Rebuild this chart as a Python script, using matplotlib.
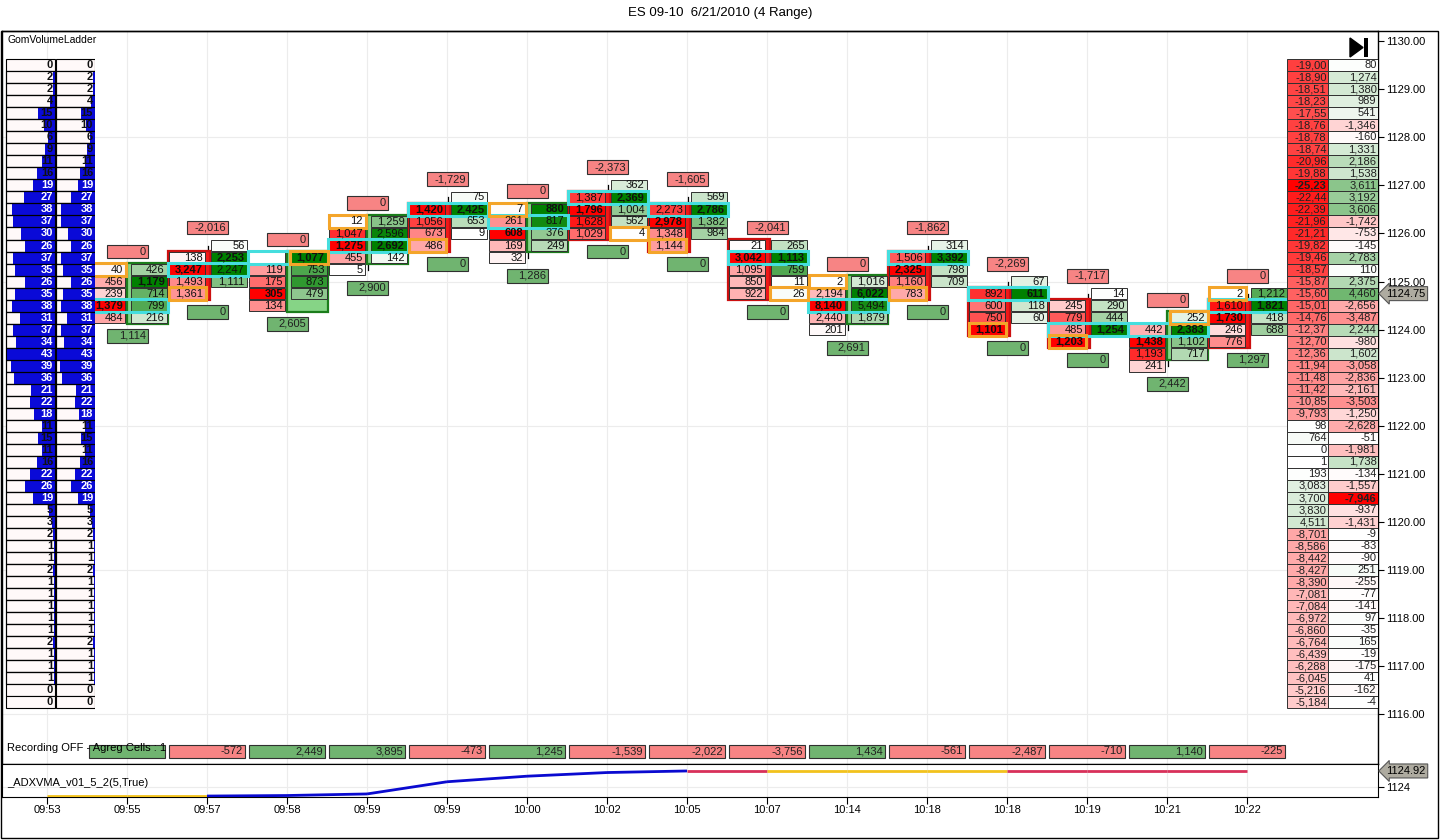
import matplotlib
matplotlib.use('Agg')
import matplotlib.pyplot as plt
from matplotlib.patches import Rectangle, Polygon
from matplotlib.collections import LineCollection
from matplotlib.transforms import blended_transform_factory
import numpy as np

plt.rcParams['font.family'] = ['Liberation Sans', 'DejaVu Sans']
plt.rcParams['font.size'] = 8

# ---------------- data ----------------
title = 'ES 09-10  6/21/2010 (4 Range)'
bar_times = ['09:53', '09:55', '09:57', '09:58', '09:59', '09:59', '10:00', '10:02',
             '10:05', '10:07', '10:14', '10:18', '10:18', '10:19', '10:21', '10:22']

TICK = 0.25
ladder_top = 1129.50
# GomVolumeLadder (left), same figures in both columns
ladder_vol = [0, 2, 2, 4, 15, 10, 6, 9, 11, 16, 19, 27, 38, 37, 30, 26, 37, 35, 26, 35,
              38, 31, 37, 34, 43, 39, 36, 21, 22, 18, 11, 15, 11, 16, 22, 26, 19, 5, 3, 2,
              1, 1, 2, 1, 1, 1, 1, 1, 2, 1, 1, 1, 0, 0]
# right ladder, two columns of cumulated delta
ladder_delta_a = [-19000, -18900, -18510, -18230, -17550, -18760, -18780, -18740, -20960, -19880,
                  -25230, -22440, -22390, -21960, -21210, -19820, -19460, -18570, -15870, -15600,
                  -15010, -14760, -12370, -12700, -12360, -11940, -11480, -11420, -10850, -9793,
                  98, 764, 0, 1, 193, 3083, 3700, 3830, 4511, -8701,
                  -8586, -8442, -8427, -8390, -7081, -7084, -6972, -6860, -6764, -6439,
                  -6288, -6045, -5216, -5184]
ladder_delta_b = [80, 1274, 1380, 989, 541, -1346, -160, 1331, 2186, 1538,
                  3611, 3192, 3606, -1742, -753, -145, 2783, 110, 2375, 4460,
                  -2656, -3487, 2244, -980, 1602, -3058, -2836, -2161, -3503, -1250,
                  -2628, -51, -1981, 1738, -134, -1557, -7946, -937, -1431, -9,
                  -83, -90, 251, -255, -77, -141, 97, -35, 165, -19,
                  -175, 41, -162, -4]

# footprint bars 1..15 (bar 0 hidden behind the ladder)
bid_tops = [1125.25, 1125.50, 1125.50, 1126.25, 1126.50, 1126.50, 1126.75, 1126.50,
            1125.75, 1125.00, 1125.50, 1124.75, 1124.50, 1124.00, 1124.75]
bid_vols = [[40, 456, 239, 1379, 484], [138, 3247, 1493, 1361], [None, 119, 175, 305, 134],
            [12, 1047, 1275, 455, 5], [1420, 1056, 673, 486], [7, 261, 608, 169, 32],
            [1387, 1796, 1628, 1029], [2273, 2978, 1348, 1144], [21, 3042, 1095, 850, 922],
            [2, 2194, 8140, 2440, 201], [1506, 2325, 1160, 783], [892, 600, 750, 1101],
            [245, 779, 485, 1203], [442, 1438, 1193, 241], [2, 1610, 1730, 246, 776]]
ask_tops = [1125.25, 1125.75, 1125.50, 1126.25, 1126.75, 1126.50, 1127.00, 1126.75,
            1125.75, 1125.00, 1125.75, 1125.00, 1124.75, 1124.25, 1124.75]
ask_vols = [[426, 1179, 714, 799, 216], [56, 2253, 2247, 1111], [1077, 753, 873, 479],
            [1259, 2596, 2692, 142], [75, 2425, 653, 9], [880, 817, 376, 249],
            [362, 2369, 1004, 562, 4], [569, 2786, 1382, 984], [265, 1113, 759, 11, 26],
            [1016, 6022, 5494, 1879], [314, 3392, 798, 709], [67, 611, 118, 60],
            [14, 290, 444, 1254], [252, 2383, 1102, 717], [1212, 1821, 418, 688]]
poc_prices = [1124.50, 1125.25, 1125.50, 1125.75, 1126.50, 1126.25, 1126.75, 1126.50,
              1125.50, 1124.50, 1125.50, 1124.75, 1124.00, 1124.00, 1124.50]
close_side = ['bid', 'bid', 'ask', 'bid', 'bid', 'bid', 'ask', 'bid',
              'ask', 'bid', 'bid', 'bid', 'bid', 'ask', 'bid']
close_price = [1125.25, 1124.75, 1125.50, 1126.25, 1125.75, 1126.50, 1126.00, 1125.75,
               1124.75, 1125.00, 1124.75, 1124.00, 1123.75, 1124.25, 1124.75]
body_top = [1125.25, 1125.50, 1125.50, 1126.25, 1126.50, 1126.50, 1126.75, 1126.50,
            1125.75, 1125.00, 1125.50, 1124.75, 1124.50, 1124.25, 1124.50]
body_bot = [1124.25, 1124.75, 1124.50, 1125.50, 1125.75, 1125.75, 1126.00, 1125.75,
            1124.75, 1124.25, 1124.75, 1124.00, 1123.75, 1123.50, 1123.75]
body_bull = [True, False, True, True, False, True, False, False,
             False, True, False, False, False, True, False]
top_deltas = [0, -2016, 0, 0, -1729, 0, -2373, -1605, -2041, 0, -1862, -2269, -1717, 0, 0]
bottom_vals = [1114, 0, 2605, 2900, 0, 1286, 0, 0, 0, 2691, 0, 0, 0, 2442, 1297]
# bottom strip, bar 1 figure hidden under the status text
strip_vals = [None, -572, 2449, 3895, -473, 1245, -1539, -2022, -3756, 1434,
              -561, -2487, -710, 1140, -225]
strip_bull = [True] + [v > 0 for v in strip_vals[1:]]

last_price = 1124.75
adx_vals = [1123.48, 1123.48, 1123.48, 1123.51, 1123.60, 1124.30, 1124.62, 1124.83,
            1124.92, 1124.92, 1124.92, 1124.92, 1124.92, 1124.92, 1124.92, 1124.92]
adx_colors = ['#f2c21c', '#f2c21c', '#0a0ad0', '#0a0ad0', '#0a0ad0', '#0a0ad0', '#0a0ad0',
              '#0a0ad0', '#d8305a', '#f2c21c', '#f2c21c', '#f2c21c', '#d8305a', '#d8305a',
              '#d8305a']

RED = (1.0, 0.0, 0.0)
GREEN = (0.0, 0.5, 0.0)


def shade(v, vmax, pos=GREEN, neg=RED):
    t = min(abs(v) / vmax, 1.0) if vmax else 0.0
    base = pos if v >= 0 else neg
    return tuple(1 - t * (1 - ch) for ch in base)


def fmt(v):
    return f'{v:,}'


# ---------------- layout ----------------
W, H = 1440, 840
fig = plt.figure(figsize=(14.4, 8.4), dpi=100)
fig.text(0.5, 1 - 13 / H, title, ha='center', va='center', fontsize=9.5)

AX_L, AX_R, AX_T, AX_B, ADX_B = 2, 1378, 31, 764, 797
ax = fig.add_axes([AX_L / W, 1 - AX_B / H, (AX_R - AX_L) / W, (AX_B - AX_T) / H])
adx = fig.add_axes([AX_L / W, 1 - ADX_B / H, (AX_R - AX_L) / W, (ADX_B - AX_B) / H], sharex=ax)

ax.set_xlim(-0.5625, 16.6375)
ax.set_ylim(1114.97, 1130.21)

# grid
for s in ax.spines.values():
    s.set_linewidth(1.0)
ax.vlines(range(len(bar_times)), 1114.97, 1130.21, color='#ececec', lw=0.8, zorder=0)
ax.hlines([1116, 1119, 1122, 1125, 1128], -0.6, 16.7, color='#ececec', lw=0.8, zorder=0)

ax.yaxis.tick_right()
ax.set_yticks(np.arange(1116, 1131))
ax.set_yticklabels([f'{p:.2f}' for p in np.arange(1116, 1131)])
ax.tick_params(axis='y', direction='out', length=4, labelsize=8, pad=2)
ax.tick_params(axis='x', bottom=False, labelbottom=False)

# footprint bars
BID_X = (-0.47, -0.02)
ASK_X = (0.05, 0.50)
for k in range(len(bid_vols)):
    c = k + 1
    bids, asks = bid_vols[k], ask_vols[k]
    bid_p = [bid_tops[k] - TICK * j for j in range(len(bids))]
    ask_p = [ask_tops[k] - TICK * j for j in range(len(asks))]
    hi = max(bid_p[0], ask_p[0])
    lo = min(bid_p[-1], ask_p[-1])
    ax.plot([c + 0.015, c + 0.015], [lo, hi], color='black', lw=0.9, zorder=2)

    h = body_top[k] - body_bot[k] + 0.28
    if body_bull[k]:
        ax.add_patch(Rectangle((c - 0.005, body_bot[k] - 0.14), 0.52, h,
                               fc='#86d486', ec='#1b7d1b', lw=1.6, zorder=3))
    else:
        ax.add_patch(Rectangle((c - 0.49, body_bot[k] - 0.14), 0.53, h,
                               fc='#f01818', ec='#cc1010', lw=1.6, zorder=3))

    bmax = max(v for v in bids if v is not None)
    amax = max(asks)
    for p, v in zip(bid_p, bids):
        fc = 'white' if v is None else shade(-v, bmax)
        ax.add_patch(Rectangle((c + BID_X[0], p - 0.12), BID_X[1] - BID_X[0], 0.24,
                               fc=fc, ec='#303030', lw=0.7, zorder=4))
        if v is not None:
            ax.text(c + BID_X[1] - 0.03, p, fmt(v), ha='right', va='center', fontsize=8,
                    fontweight='bold' if v == bmax else 'normal', color='#101010', zorder=8)
    for p, v in zip(ask_p, asks):
        ax.add_patch(Rectangle((c + ASK_X[0], p - 0.12), ASK_X[1] - ASK_X[0], 0.24,
                               fc=shade(v, amax), ec='#303030', lw=0.7, zorder=4))
        ax.text(c + ASK_X[1] - 0.03, p, fmt(v), ha='right', va='center', fontsize=8,
                fontweight='bold' if v == amax else 'normal', color='#101010', zorder=8)

    # POC row and close cell
    ax.add_patch(Rectangle((c - 0.485, poc_prices[k] - 0.135), 1.0, 0.27, fill=False,
                           ec='#45dede', lw=2.2, zorder=6))
    cx = BID_X if close_side[k] == 'bid' else ASK_X
    ax.add_patch(Rectangle((c + cx[0] - 0.01, close_price[k] - 0.135), cx[1] - cx[0] + 0.02, 0.27,
                           fill=False, ec='#f4a52a', lw=2.2, zorder=7))

    # delta above, volume below
    ytop = hi + 0.375
    ax.add_patch(Rectangle((c - 0.25, ytop - 0.145), 0.515, 0.29, fc='#f78484',
                           ec='#303030', lw=0.8, zorder=5))
    ax.text(c + 0.235, ytop, fmt(top_deltas[k]), ha='right', va='center', fontsize=8,
            color='#202020', zorder=8)
    ybot = lo - 0.375
    ax.add_patch(Rectangle((c - 0.25, ybot - 0.145), 0.515, 0.29, fc='#70b470',
                           ec='#303030', lw=0.8, zorder=5))
    ax.text(c + 0.235, ybot, fmt(bottom_vals[k]), ha='right', va='center', fontsize=8,
            color='#202020', zorder=8)

# bottom strip
strip_tr = blended_transform_factory(ax.transData, ax.transAxes)
for k, v in enumerate(strip_vals):
    c = k + 1
    ax.add_patch(Rectangle((c - 0.475, 0.0086), 0.95, 0.0174, transform=strip_tr,
                           fc='#70b470' if strip_bull[k] else '#f78484', ec='#303030',
                           lw=0.8, zorder=5))
    if v is not None:
        ax.text(c + 0.45, 0.0173, fmt(v), transform=strip_tr, ha='right', va='center',
                fontsize=8, color='#202020', zorder=8)


def axfrac(px, py):
    return (px - AX_L) / (AX_R - AX_L), (AX_B - py) / (AX_B - AX_T)


ax.text(*axfrac(7, 748), 'Recording OFF - Agreg Cells : 1', transform=ax.transAxes,
        ha='left', va='center', fontsize=8, zorder=9)
ax.text(*axfrac(7, 40), 'GomVolumeLadder', transform=ax.transAxes,
        ha='left', va='center', fontsize=7.5, zorder=9)

# go-to-end icon
ax.add_patch(Polygon([axfrac(1350, 38), axfrac(1350, 57), axfrac(1363, 47.5)],
                     closed=True, transform=ax.transAxes, fc='black', ec='black', zorder=9))
x0, y0 = axfrac(1364, 57)
x1, y1 = axfrac(1368, 38)
ax.add_patch(Rectangle((x0, y0), x1 - x0, y1 - y0, transform=ax.transAxes,
                       fc='black', ec='none', zorder=9))

# last price marker
ax.annotate(f'{last_price:.2f}', xy=(1.0, last_price), xycoords=('axes fraction', 'data'),
            xytext=(6, 0), textcoords='offset points', ha='left', va='center', fontsize=8,
            bbox=dict(boxstyle='larrow,pad=0.18', fc='#aeaba0', ec='#555555', lw=0.8),
            annotation_clip=False)

# ---------------- left ladder ----------------
ladder_prices = [ladder_top - TICK * j for j in range(len(ladder_vol))]
lad = fig.add_axes([5 / W, 1 - AX_B / H, 90 / W, (AX_B - AX_T) / H], sharey=ax)
lad.set_xlim(0, 90)
lad.axis('off')
vmax = max(ladder_vol)
for x0, x1 in [(1, 50), (51, 90)]:
    for p, v in zip(ladder_prices, ladder_vol):
        lad.add_patch(Rectangle((x0, p - 0.125), x1 - x0, 0.25, fc='#fff9f9',
                                ec='black', lw=0.8, zorder=2))
        bw = (x1 - x0) * v / vmax
        if bw > 0:
            lad.add_patch(Rectangle((x1 - bw, p - 0.125), bw, 0.25, fc='#0a0ad8',
                                    ec='none', zorder=3))
            lad.add_patch(Rectangle((x0, p - 0.125), x1 - x0, 0.25, fill=False,
                                    ec='black', lw=0.8, zorder=4))
        lad.text(x1 - 2, p, str(v), ha='right', va='center', fontsize=8, fontweight='bold',
                 color='white' if v >= 18 else '#101010', zorder=5)

# ---------------- right ladder ----------------
rl = fig.add_axes([1287 / W, 1 - AX_B / H, 91 / W, (AX_B - AX_T) / H], sharey=ax)
rl.set_xlim(0, 91)
rl.axis('off')
for (x0, x1), vals in [((0, 41), ladder_delta_a), ((41, 91), ladder_delta_b)]:
    m = max(abs(v) for v in vals)
    for p, v in zip(ladder_prices, vals):
        rl.add_patch(Rectangle((x0, p - 0.125), x1 - x0, 0.25, fc=shade(v, m),
                               ec='#303030', lw=0.7, zorder=2))
        rl.text(x1 - 1.5, p, fmt(v)[:6], ha='right', va='center', fontsize=8,
                fontweight='bold' if abs(v) == m else 'normal', color='#202020', zorder=5)

# ---------------- ADXVMA panel ----------------
adx.set_ylim(1123.425, 1125.32)
adx.vlines(range(len(bar_times)), 1123.425, 1125.32, color='#ececec', lw=0.8, zorder=0)
adx.axhline(1124, color='#ececec', lw=0.8, zorder=0)
pts = np.column_stack([np.arange(len(adx_vals)), adx_vals])
segs = np.stack([pts[:-1], pts[1:]], axis=1)
adx.add_collection(LineCollection(segs, colors=adx_colors, linewidths=2, zorder=3))
adx.yaxis.tick_right()
adx.set_yticks([1124])
adx.set_yticklabels(['1124'])
adx.tick_params(axis='y', direction='out', length=4, labelsize=8, pad=2)
adx.set_xticks(range(len(bar_times)))
adx.set_xticklabels(bar_times)
adx.tick_params(axis='x', direction='out', length=5, labelsize=8, pad=1)
adx.text(*[(7 - AX_L) / (AX_R - AX_L), 0.43], '_ADXVMA_v01_5_2(5,True)',
         transform=adx.transAxes, ha='left', va='center', fontsize=8)
adx.annotate(f'{adx_vals[-1]:.2f}', xy=(1.0, adx_vals[-1]), xycoords=('axes fraction', 'data'),
             xytext=(6, 0), textcoords='offset points', ha='left', va='center', fontsize=8,
             bbox=dict(boxstyle='larrow,pad=0.18', fc='#aeaba0', ec='#555555', lw=0.8),
             annotation_clip=False)

# outer frame
fig.add_artist(Rectangle((1 / W, 2 / H), 1437 / W, (H - 2 - AX_T) / H, transform=fig.transFigure,
                         fill=False, ec='black', lw=1.0))

fig.savefig('out.png', dpi=100)
